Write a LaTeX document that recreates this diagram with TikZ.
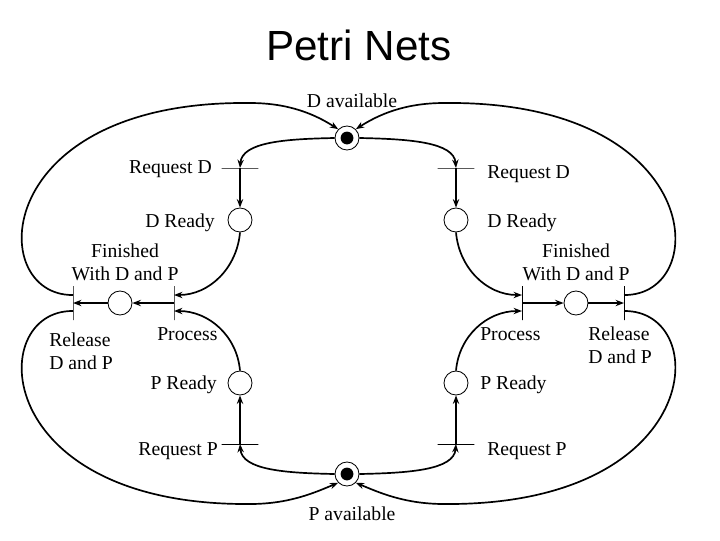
\documentclass[tikz,border=0pt]{standalone}
\usepackage{fontspec}
\setmainfont{Liberation Serif}
\newfontfamily\titlefont{Liberation Sans}
\usetikzlibrary{arrows.meta}

\tikzset{
	placenode/.style={circle, draw, line width=0.6pt, minimum size=0.6cm, inner sep=0pt},
	tokennode/.style={placenode, path picture={\fill (path picture bounding box.center) circle (0.16cm);}},
	hbar/.style={draw, line width=0.7pt, minimum width=0.92cm, minimum height=0pt, inner sep=0pt, outer sep=0pt},
	vbar/.style={draw, line width=0.7pt, minimum height=0.85cm, minimum width=0pt, inner sep=0pt, outer sep=0pt},
	flow/.style={line width=1.2pt, -{Stealth[length=6pt,width=4.5pt]}},
	lbl/.style={font=\fontsize{14}{16.3}\selectfont, inner sep=0pt}
}

\begin{document}
\begin{tikzpicture}[x=0.025cm, y=0.025cm]
			%%%%% START %%%%%
			
			\useasboundingbox (0,0) rectangle (720,-540);
			
			\node[font=\titlefont\fontsize{30}{36}\selectfont, anchor=base, inner sep=0pt] (title) at (359,-60) {Petri Nets};
			
			\node[tokennode] (davail) at (347,-138) {};
			\node[tokennode] (pavail) at (347,-474) {};
			
			\node[hbar] (reqdl) at (240,-168) {};
			\node[hbar] (reqdr) at (456,-168) {};
			\node[placenode] (drdyl) at (240,-220) {};
			\node[placenode] (drdyr) at (456,-220) {};
			
			\node[vbar] (procl) at (174,-303) {};
			\node[vbar] (procr) at (522,-303) {};
			\node[placenode] (finl) at (120,-303) {};
			\node[placenode] (finr) at (576,-303) {};
			\node[vbar] (rell) at (73,-303) {};
			\node[vbar] (relr) at (624,-303) {};
			
			\node[placenode] (prdyl) at (240,-383) {};
			\node[placenode] (prdyr) at (456,-383) {};
			\node[hbar] (reqpl) at (240,-444) {};
			\node[hbar] (reqpr) at (456,-444) {};
			
			\draw[flow] (davail.west) .. controls (285,-139) and (242,-142) .. (reqdl);
			\draw[flow] (davail.east) .. controls (409,-139) and (454,-142) .. (reqdr);
			\draw[flow] (reqdl) -- (drdyl);
			\draw[flow] (reqdr) -- (drdyr);
			
			\draw[flow] (drdyl.south) to[out=-95,in=0] ([yshift=0.2cm]procl.center);
			\draw[flow] (drdyr.south) to[out=-85,in=180] ([yshift=0.2cm]procr.center);
			\draw[flow] (prdyl.north) to[out=95,in=0] ([yshift=-0.2cm]procl.center);
			\draw[flow] (prdyr.north) to[out=85,in=180] ([yshift=-0.2cm]procr.center);
			
			\draw[flow] (procl) -- (finl);
			\draw[flow] (finl) -- (rell);
			\draw[flow] (procr) -- (finr);
			\draw[flow] (finr) -- (relr);
			
			\draw[flow] (pavail.west) .. controls (285,-473) and (242,-470) .. (reqpl);
			\draw[flow] (pavail.east) .. controls (409,-473) and (454,-470) .. (reqpr);
			\draw[flow] (reqpl) -- (prdyl);
			\draw[flow] (reqpr) -- (prdyr);
			
			\draw[flow] ([yshift=0.2cm]rell.center) .. controls (-15,-296) and (-10,-100) .. (250,-103) .. controls (290,-103) and (316,-115) .. (davail.north west);
			\draw[flow] ([yshift=-0.2cm]rell.center) .. controls (-15,-310) and (-10,-506) .. (250,-504) .. controls (290,-504) and (316,-492) .. (pavail.south west);
			\draw[flow] ([yshift=0.2cm]relr.center) .. controls (713,-296) and (706,-100) .. (444,-103) .. controls (404,-103) and (378,-115) .. (davail.north east);
			\draw[flow] ([yshift=-0.2cm]relr.center) .. controls (713,-310) and (706,-506) .. (444,-504) .. controls (404,-504) and (378,-492) .. (pavail.south east);
			
			\node[lbl, anchor=base] (ldavail) at (352,-107) {D available};
			\node[lbl, anchor=base east] (lreqdl) at (212,-173) {Request D};
			\node[lbl, anchor=base west] (lreqdr) at (487,-178) {Request D};
			\node[lbl, anchor=base east] (ldrdyl) at (215,-227) {D Ready};
			\node[lbl, anchor=base west] (ldrdyr) at (487,-227) {D Ready};
			\node[lbl, anchor=north, align=center] (lfinl) at (125,-244) {Finished\\With D and P};
			\node[lbl, anchor=north, align=center] (lfinr) at (576,-244) {Finished\\With D and P};
			\node[lbl, anchor=north west, align=left] (lrell) at (49,-333) {Release\\D and P};
			\node[lbl, anchor=north west, align=left] (lrelr) at (588,-327) {Release\\D and P};
			\node[lbl, anchor=base west] (lprocl) at (157,-340) {Process};
			\node[lbl, anchor=base west] (lprocr) at (480,-340) {Process};
			\node[lbl, anchor=base east] (lprdyl) at (217,-389) {P Ready};
			\node[lbl, anchor=base west] (lprdyr) at (480,-389) {P Ready};
			\node[lbl, anchor=base east] (lreqpl) at (218,-455) {Request P};
			\node[lbl, anchor=base west] (lreqpr) at (487,-455) {Request P};
			\node[lbl, anchor=base] (lpavail) at (352,-520) {P available};
			
			%%%%% END %%%%%
\end{tikzpicture}
\end{document}
